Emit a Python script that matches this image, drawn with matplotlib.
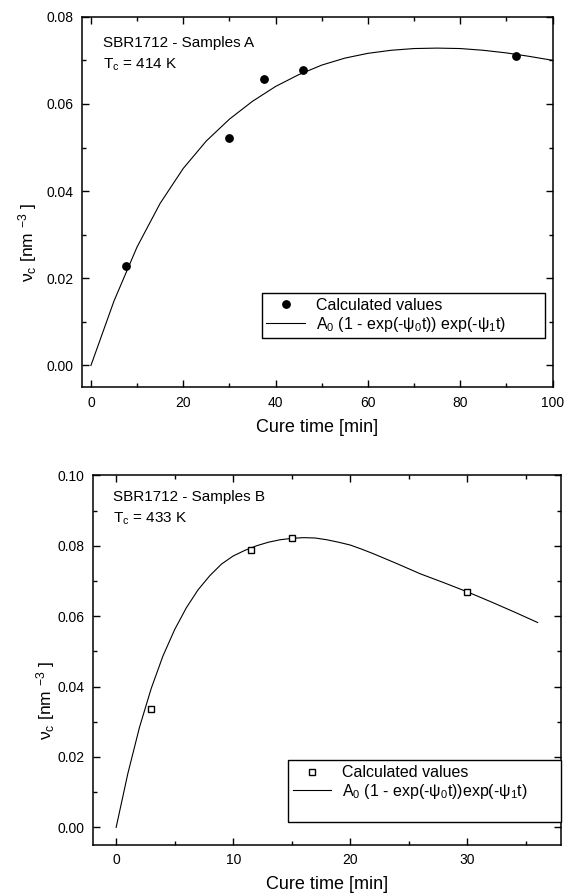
"""
Crosslink density vs cure time for SBR1712, two sample sets (A and B).
"""

import matplotlib
matplotlib.use("Agg")
import matplotlib.pyplot as plt
from matplotlib.lines import Line2D
from matplotlib.ticker import MultipleLocator, FormatStrFormatter

plt.rcParams["font.family"] = ["Liberation Sans", "DejaVu Sans"]
plt.rcParams["mathtext.fontset"] = "custom"
plt.rcParams["mathtext.rm"] = "Liberation Sans"
plt.rcParams["mathtext.it"] = "Liberation Sans:italic"
plt.rcParams["mathtext.default"] = "regular"

# -- data: samples A (T_c = 414 K) --
a_time = [7.5, 30.0, 37.5, 46.0, 92.0]
a_nu = [0.0229, 0.0522, 0.0657, 0.0678, 0.0710]

a_fit_time = [0, 5, 10, 15, 20, 25, 30, 35, 40, 45, 50,
              55, 60, 65, 70, 75, 80, 85, 90, 95, 100]
a_fit_nu = [0.0, 0.0148, 0.0272, 0.0372, 0.0452, 0.0515, 0.0565, 0.0606,
            0.0640, 0.0667, 0.0689, 0.0705, 0.0716, 0.0723, 0.0727,
            0.0728, 0.0727, 0.0723, 0.0717, 0.0709, 0.0700]

# -- data: samples B (T_c = 433 K) --
b_time = [3.0, 11.5, 15.0, 30.0]
b_nu = [0.0337, 0.0787, 0.0822, 0.0669]

b_fit_time = [0, 1, 2, 3, 4, 5, 6, 7, 8, 9, 10, 11, 12, 13, 14, 15, 16,
              17, 18, 19, 20, 21, 22, 23, 24, 26, 28, 30, 32, 34, 36]
b_fit_nu = [0.0, 0.0153, 0.0285, 0.0395, 0.0487, 0.0562, 0.0624, 0.0675,
            0.0715, 0.0748, 0.0771, 0.0787, 0.0800, 0.0810, 0.0817, 0.0821,
            0.0823, 0.0822, 0.0817, 0.0810, 0.0802, 0.0790, 0.0777, 0.0763,
            0.0749, 0.0720, 0.0695, 0.0669, 0.0641, 0.0612, 0.0582]

YLABEL = "ν$_c$ [nm $^{-3}$ ]"
XLABEL = "Cure time [min]"


def _style_axes(ax, xmajor, xminor, ymajor, yminor, ylab_x):
    ax.xaxis.set_major_locator(MultipleLocator(xmajor))
    ax.xaxis.set_minor_locator(MultipleLocator(xminor))
    ax.yaxis.set_major_locator(MultipleLocator(ymajor))
    ax.yaxis.set_minor_locator(MultipleLocator(yminor))
    ax.yaxis.set_major_formatter(FormatStrFormatter("%.2f"))
    ax.tick_params(which="both", direction="in", top=True, right=True,
                   labelsize=10, width=1.0)
    ax.tick_params(which="major", length=5, pad=6)
    ax.tick_params(which="minor", length=3)
    for sp in ax.spines.values():
        sp.set_linewidth(1.1)
    ax.set_xlabel(XLABEL, fontsize=13)
    ax.set_ylabel(YLABEL, fontsize=12.5, va="center")
    ax.xaxis.set_label_coords(0.5, -0.085)
    ax.yaxis.set_label_coords(ylab_x, 0.39)


def _legend(ax, handles, labels, anchor):
    leg = ax.legend(handles, labels, loc="lower left", bbox_to_anchor=anchor,
                    mode="expand", borderaxespad=0, fontsize=11.5,
                    frameon=True, fancybox=False, edgecolor="black",
                    framealpha=1, borderpad=0.3, handlelength=2.4,
                    handletextpad=0.7, labelspacing=0.1)
    leg.get_frame().set_linewidth(1.0)
    return leg


fig = plt.figure(figsize=(5.65, 8.94), dpi=100)

# -- top panel --
ax1 = fig.add_axes([0.1446, 0.5668, 0.8333, 0.4145])
ax1.plot(a_fit_time, a_fit_nu, color="black", lw=0.8)
ax1.plot(a_time, a_nu, "o", color="black", ms=5.3, ls="none")
ax1.set_xlim(-2, 100)
ax1.set_ylim(-0.005, 0.08)
_style_axes(ax1, 20, 10, 0.02, 0.01, -0.116)
ax1.text(0.046, 0.928, "SBR1712 - Samples A", transform=ax1.transAxes,
         fontsize=11, va="center")
ax1.text(0.046, 0.870, "T$_c$ = 414 K", transform=ax1.transAxes,
         fontsize=11, va="center")

h1 = [Line2D([], [], marker="o", color="black", ls="none", ms=5.3),
      Line2D([], [], color="black", lw=0.8)]
l1 = ["Calculated values",
      "A$_0$ (1 - exp(-ψ$_0$t)) exp(-ψ$_1$t)"]
_legend(ax1, h1, l1, (0.382, 0.132, 0.602, 0.117))

# -- bottom panel --
ax2 = fig.add_axes([0.1641, 0.0548, 0.8289, 0.4135])
ax2.plot(b_fit_time, b_fit_nu, color="black", lw=0.8)
ax2.plot(b_time, b_nu, "s", mfc="white", mec="black", mew=1.0, ms=4.2,
         ls="none")
ax2.set_xlim(-2, 38)
ax2.set_ylim(-0.005, 0.10)
_style_axes(ax2, 10, 5, 0.02, 0.01, -0.0997)
ax2.text(0.043, 0.941, "SBR1712 - Samples B", transform=ax2.transAxes,
         fontsize=11, va="center")
ax2.text(0.043, 0.883, "T$_c$ = 433 K", transform=ax2.transAxes,
         fontsize=11, va="center")

h2 = [Line2D([], [], marker="s", mfc="white", mec="black", mew=1.0,
             ls="none", ms=4.2),
      Line2D([], [], color="black", lw=0.8),
      Line2D([], [], color="none")]
l2 = ["Calculated values",
      "A$_0$ (1 - exp(-ψ$_0$t))exp(-ψ$_1$t)",
      " "]
_legend(ax2, h2, l2, (0.417, 0.062, 0.583, 0.186))

fig.savefig("out.png", dpi=100)
